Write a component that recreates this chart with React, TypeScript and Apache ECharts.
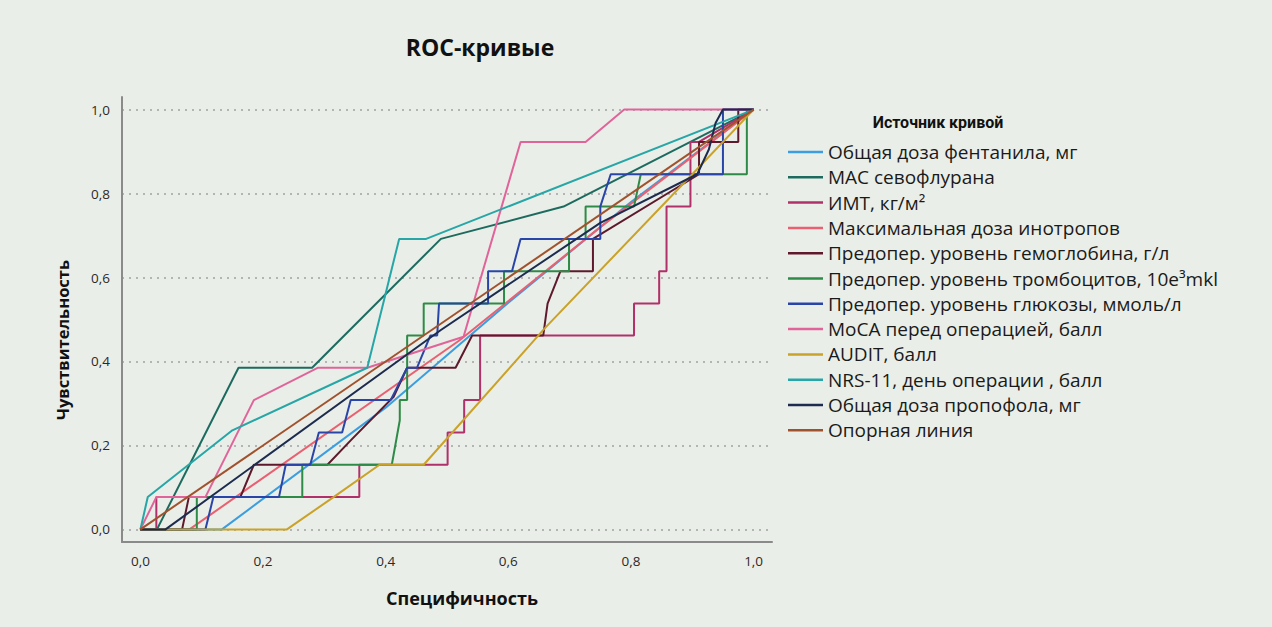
import React, { useEffect, useRef } from 'react';
import * as echarts from 'echarts';

const BG = '#eaeee8';

const tickValues = [0, 0.2, 0.4, 0.6, 0.8, 1.0];

const seriesNames = [
  'Общая доза фентанила, мг',
  'MAC севофлурана',
  'ИМТ, кг/м²',
  'Максимальная доза инотропов',
  'Предопер. уровень гемоглобина, г/л',
  'Предопер. уровень тромбоцитов, 10e³mkl',
  'Предопер. уровень глюкозы, ммоль/л',
  'MoCA перед операцией, балл',
  'AUDIT, балл',
  'NRS-11, день операции , балл',
  'Общая доза пропофола, мг',
  'Опорная линия',
];

const seriesColors = [
  '#3a9ee0', '#1d6b5f', '#b0306a', '#ea6070', '#5e1a2c', '#2e8b47',
  '#2a45a8', '#e0649a', '#c9a227', '#26a6a6', '#1c2b4e', '#a0522d',
];

// [1 - specificity, sensitivity]
const fentanyl = [[0, 0], [0.133, 0], [0.4, 0.29], [0.6, 0.54], [0.8, 0.78], [1, 1]];
const mac = [[0, 0], [0.027, 0], [0.16, 0.385], [0.28, 0.385], [0.49, 0.692], [0.69, 0.769], [1, 1]];
const bmi = [[0, 0], [0.026, 0], [0.026, 0.077], [0.357, 0.077], [0.357, 0.154], [0.501, 0.154], [0.501, 0.231], [0.528, 0.231], [0.528, 0.308], [0.554, 0.308], [0.554, 0.462], [0.805, 0.462], [0.805, 0.538], [0.846, 0.538], [0.846, 0.615], [0.858, 0.615], [0.858, 0.769], [0.897, 0.769], [0.897, 0.923], [0.911, 0.923], [1, 1]];
const inotropes = [[0, 0], [0.08, 0], [0.52, 0.45], [0.75, 0.72], [1, 1]];
const hemoglobin = [[0, 0], [0.068, 0], [0.079, 0.077], [0.163, 0.077], [0.185, 0.154], [0.305, 0.154], [0.343, 0.212], [0.413, 0.316], [0.435, 0.385], [0.514, 0.385], [0.541, 0.462], [0.657, 0.462], [0.664, 0.538], [0.685, 0.615], [0.738, 0.615], [0.738, 0.692], [0.911, 0.846], [0.911, 0.923], [0.975, 0.923], [0.975, 1], [1, 1]];
const platelets = [[0, 0], [0.092, 0], [0.092, 0.077], [0.264, 0.077], [0.264, 0.154], [0.41, 0.154], [0.423, 0.26], [0.423, 0.308], [0.435, 0.308], [0.435, 0.462], [0.462, 0.462], [0.462, 0.538], [0.593, 0.538], [0.593, 0.615], [0.699, 0.615], [0.699, 0.692], [0.726, 0.692], [0.726, 0.769], [0.805, 0.769], [0.816, 0.846], [0.989, 0.846], [0.989, 1], [1, 1]];
const glucose = [[0, 0], [0.106, 0], [0.119, 0.077], [0.226, 0.077], [0.237, 0.154], [0.277, 0.154], [0.291, 0.231], [0.329, 0.231], [0.343, 0.308], [0.408, 0.308], [0.435, 0.385], [0.451, 0.385], [0.473, 0.462], [0.484, 0.462], [0.487, 0.538], [0.567, 0.538], [0.567, 0.615], [0.606, 0.615], [0.62, 0.692], [0.75, 0.692], [0.75, 0.769], [0.767, 0.846], [0.95, 0.846], [0.95, 1], [1, 1]];
const moca = [[0, 0], [0.026, 0.077], [0.106, 0.077], [0.185, 0.308], [0.289, 0.385], [0.37, 0.385], [0.527, 0.459], [0.62, 0.923], [0.726, 0.923], [0.789, 1], [1, 1]];
const audit = [[0, 0], [0.239, 0], [0.315, 0.077], [0.39, 0.154], [0.462, 0.154], [0.66, 0.48], [0.9, 0.846], [1, 1]];
const nrs = [[0, 0], [0.012, 0.077], [0.15, 0.236], [0.37, 0.385], [0.422, 0.692], [0.466, 0.692], [1, 1]];
const propofol = [[0, 0], [0.041, 0], [0.49, 0.475], [0.75, 0.73], [0.908, 0.846], [0.927, 0.905], [0.938, 0.968], [0.95, 1], [1, 1]];
const reference = [[0, 0], [1, 1]];

const curves = [fentanyl, mac, bmi, inotropes, hemoglobin, platelets, glucose, moca, audit, nrs, propofol, reference];

const fmt = (v: number) => v.toFixed(1).replace('.', ',');

export default function App() {
  const ref = useRef<HTMLDivElement>(null);
  useEffect(() => {
    document.body.style.margin = '0';
    document.body.style.background = BG;
    const chart = echarts.init(ref.current!, null, { renderer: 'svg' });
    const font = 'Open Sans';
    chart.setOption({
      animation: false,
      backgroundColor: BG,
      grid: { left: 122, top: 97, width: 650, height: 445, containLabel: false },
      xAxis: {
        type: 'value', min: -0.03, max: 1.03,
        axisLine: { show: true, onZero: false, lineStyle: { color: '#8a8a8a', width: 2 } },
        axisTick: { show: false, customValues: tickValues },
        splitLine: { show: false },
        axisLabel: { customValues: tickValues, formatter: fmt, margin: 12, color: '#2a2a2a', fontSize: 13.5, fontFamily: font },
      },
      yAxis: {
        type: 'value', min: -0.03, max: 1.03,
        axisLine: { show: true, onZero: false, lineStyle: { color: '#8a8a8a', width: 2 } },
        axisTick: { show: false, customValues: tickValues },
        splitLine: { show: true, lineStyle: { color: '#b4b4b4', width: 2, type: [2, 5] } },
        axisLabel: { customValues: tickValues, formatter: fmt, margin: 12, color: '#2a2a2a', fontSize: 13.5, fontFamily: font },
      },
      legend: {
        orient: 'vertical', left: 788, top: 142, padding: 0,
        itemWidth: 35, itemHeight: 2.5, itemGap: 5.3,
        icon: 'rect',
        textStyle: { fontFamily: font, fontSize: 19, color: '#1a1a1a', lineHeight: 20 },
        data: seriesNames,
      },
      graphic: [
        { type: 'text', x: 480, y: 47, style: { text: 'ROC-кривые', fontFamily: font, fontSize: 23, fontWeight: 'bold', fill: '#111', align: 'center', verticalAlign: 'middle' } },
        { type: 'text', x: 938, y: 122, style: { text: 'Источник кривой', fontFamily: 'Roboto', fontSize: 16, fontWeight: 'bold', fill: '#111', align: 'center', verticalAlign: 'middle' } },
        { type: 'text', x: 462, y: 598, style: { text: 'Специфичность', fontFamily: font, fontSize: 18, fontWeight: 'bold', fill: '#111', align: 'center', verticalAlign: 'middle' } },
        { type: 'text', x: 62, y: 340, rotation: Math.PI / 2, style: { text: 'Чувствительность', fontFamily: font, fontSize: 16.5, fontWeight: 'bold', fill: '#111', align: 'center', verticalAlign: 'middle' } },
      ],
      series: curves.map((c, i) => ({
        type: 'line',
        name: seriesNames[i],
        data: c,
        symbol: 'none',
        color: seriesColors[i],
        lineStyle: { width: 2, color: seriesColors[i] },
        emphasis: { disabled: true },
      })),
    });
    return () => chart.dispose();
  }, []);
  return <div ref={ref} style={{ width: 1272, height: 627 }} />;
}
